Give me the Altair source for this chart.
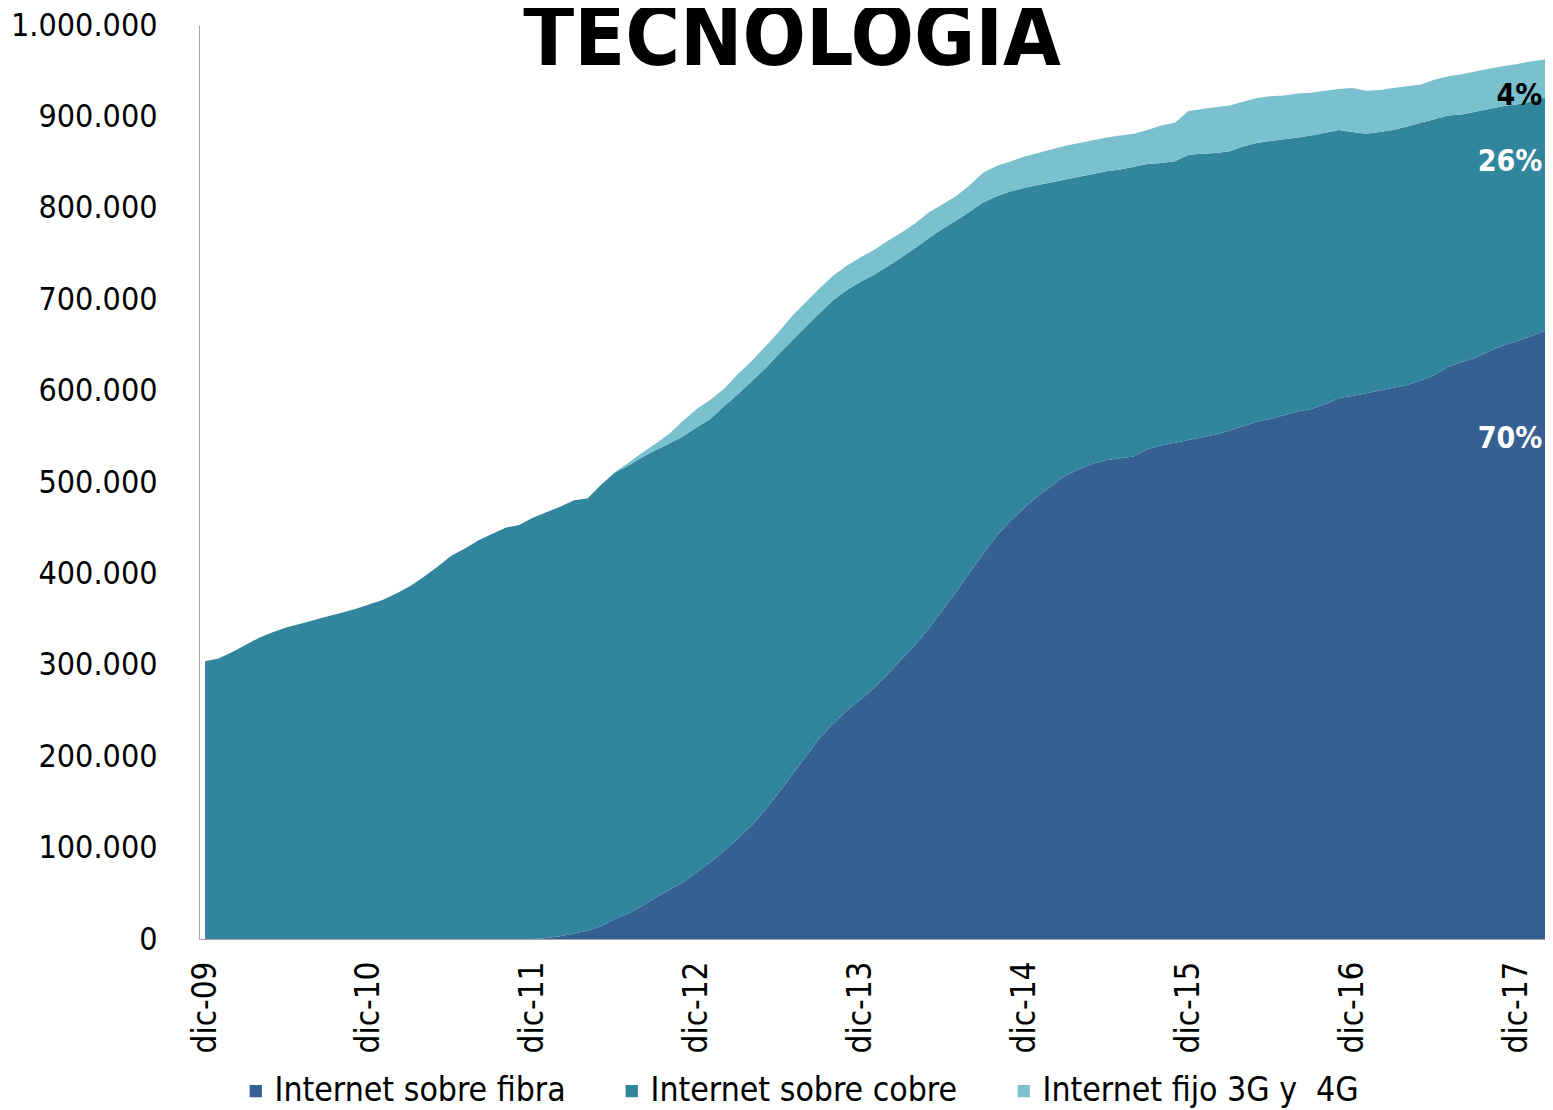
import altair as alt
import pandas as pd

FONT = "DejaVu Sans Condensed"

# month index 0 = dic-09, one step per month
months = list(range(100))

tick_values = [0, 12, 24, 36, 48, 60, 72, 84, 96]
tick_labels = ["dic-09", "dic-10", "dic-11", "dic-12", "dic-13",
               "dic-14", "dic-15", "dic-16", "dic-17"]

series_names = ["Internet sobre fibra", "Internet sobre cobre", "Internet fijo 3G y\u00a0 4G"]
series_colors = ["#366092", "#31859C", "#7AC0CF"]

# values in thousands of accesses
fibra_k = [
    0, 0, 0, 0, 0, 0, 0, 0, 0, 0, 0, 0, 0, 0, 0, 0, 0, 0, 0, 0, 0, 0, 0, 0,
    0, 1, 3, 6, 9, 14, 22, 28, 36, 45,
    54, 62, 73, 84, 96, 110, 124, 141, 160, 180,
    200, 220, 236, 250, 262, 275, 290, 306, 322, 340,
    360, 380, 401, 422, 442, 458, 472, 485, 496, 507,
    514, 520, 524, 526, 528, 536, 540, 543, 546, 549,
    552, 556, 561, 566, 569, 573, 577, 580, 585, 592,
    594, 597, 600, 603, 606, 611, 617, 626, 631, 636,
    643, 649, 654, 659, 665, 670,
]
cobre_k = [
    304, 307, 314, 322, 330, 336, 341, 345, 349, 353, 357, 361,
    366, 371, 378, 386, 396, 407, 419, 427, 436, 443, 450, 453,
    461, 466, 470, 474, 473, 483, 488, 490, 491, 490,
    488, 488, 487, 485, 487, 486, 486, 483, 480, 475,
    470, 465, 463, 460, 457, 452, 446, 440, 434, 427,
    417, 406, 395, 384, 371, 360, 350, 340, 332, 324,
    320, 317, 316, 316, 317, 312, 309, 308, 312, 310,
    308, 306, 306, 305, 304, 302, 300, 299, 297, 293,
    289, 284, 283, 282, 283, 282, 280, 275, 271, 269,
    265, 262, 259, 257, 255, 253,
]
movil_k = [
    0, 0, 0, 0, 0, 0, 0, 0, 0, 0, 0, 0, 0, 0, 0,
    0, 0, 0, 0, 0, 0, 0, 0, 0, 0, 0, 0, 0, 0, 0,
    1, 3, 5, 7, 11, 17, 20, 21, 19, 22,
    22, 24, 24, 27, 27, 27, 27, 27, 27, 27,
    28, 27, 27, 28, 27, 27, 29, 33, 33, 33,
    34, 35, 36, 37, 37, 37, 37, 37, 36, 37,
    41, 42, 48, 49, 50, 50, 49, 49, 49, 48,
    48, 47, 46, 45, 48, 47, 46, 46, 44, 42,
    43, 43, 44, 44, 44, 44, 44, 44, 42, 45,
]

share_labels = ["70%", "26%", "4%"]
share_colors = ["white", "white", "black"]
share_mes = [97.9, 97.9, 97.9]
share_valor = [547000, 850000, 922000]

title_text = "TECNOLOGÍA"

rows = []
for order, (name, vals) in enumerate(zip(series_names, [fibra_k, cobre_k, movil_k])):
    for m, v in zip(months, vals):
        rows.append({"mes": m, "serie": name, "valor": v * 1000, "orden": order})
df = pd.DataFrame(rows)

labels_df = pd.DataFrame({"mes": share_mes, "valor": share_valor,
                          "txt": share_labels, "col": share_colors})

label_expr_x = "[" + ",".join("'%s'" % t for t in tick_labels) + "][round(datum.value/12)]"

x_axis = alt.Axis(
    values=tick_values, labelExpr=label_expr_x, labelAngle=270,
    labelAlign="right", labelBaseline="middle", labelFontSize=33,
    labelFont=FONT, labelColor="black", labelPadding=22, ticks=False,
    grid=False, domainColor="#A6A6A6", domainWidth=1, title=None,
    labelOverlap=False,
)
y_axis = alt.Axis(
    values=[0, 100000, 200000, 300000, 400000, 500000, 600000, 700000,
            800000, 900000, 1000000],
    labelExpr="replace(format(datum.value, ','), regexp(',', 'g'), '.')",
    labelFontSize=32, labelFont=FONT, labelColor="black", labelPadding=42,
    ticks=False, grid=False, domainColor="#A6A6A6", domainWidth=1,
    title=None, labelOverlap=False,
)
x_scale = alt.Scale(domain=[-0.44, 98.10], nice=False, zero=False)
y_scale = alt.Scale(domain=[0, 1000000], nice=False)

area = alt.Chart(df).mark_area(clip=True, interpolate="linear").encode(
    x=alt.X("mes:Q", scale=x_scale, axis=x_axis),
    y=alt.Y("valor:Q", stack="zero", scale=y_scale, axis=y_axis),
    color=alt.Color(
        "serie:N",
        scale=alt.Scale(domain=series_names, range=series_colors),
        sort=series_names,
        legend=alt.Legend(
            title=None, orient="none", legendX=40, legendY=1049,
            direction="horizontal", symbolType="square", symbolSize=150,
            symbolStrokeWidth=0, labelFontSize=33.5, labelFont=FONT,
            labelColor="black", columnPadding=49, labelOffset=2,
            labelLimit=0, padding=0,
        ),
    ),
    order=alt.Order("orden:Q", sort="ascending"),
)

shares = alt.Chart(labels_df).mark_text(
    align="right", baseline="middle", fontSize=30, fontWeight="bold", font=FONT
).encode(
    x=alt.X("mes:Q", scale=x_scale, axis=x_axis),
    y=alt.Y("valor:Q", scale=y_scale, axis=y_axis),
    text="txt:N",
    color=alt.Color("col:N", scale=None),
)

title = alt.Chart(pd.DataFrame({"t": [title_text]})).mark_text(
    align="center", baseline="alphabetic", fontSize=83, fontWeight="bold",
    font=FONT, color="black"
).encode(
    text="t:N",
    x=alt.value(593),
    y=alt.value(40),
)

chart = alt.layer(area, shares, title).properties(
    width=1346,
    height=914,
    padding={"left": 191, "top": 17, "right": 0, "bottom": 169},
    autosize=alt.AutoSizeParams(type="none"),
).configure(
    font=FONT
).configure_view(
    stroke="transparent", strokeWidth=0
).configure_axis(
    grid=False
)

chart.save("out.html", embed_options={"renderer": "svg", "actions": False})
